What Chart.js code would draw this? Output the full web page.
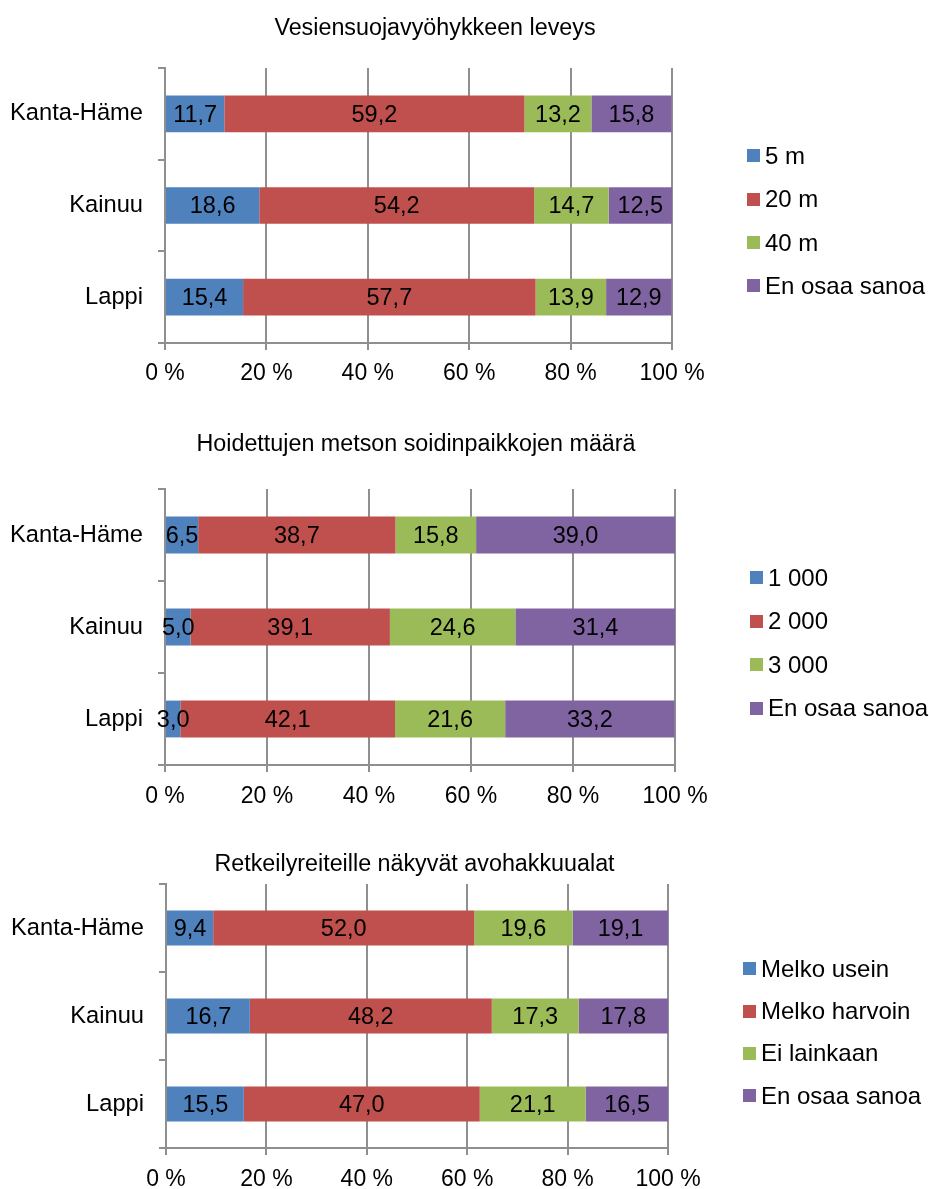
<!DOCTYPE html>
<html lang="fi">
<head>
<meta charset="utf-8">
<title>Kyselyn tulokset</title>
<script src="https://cdn.jsdelivr.net/npm/chart.js@4.4.1/dist/chart.umd.min.js"></script>
<style>
  body {
    margin: 0;
    width: 929px;
    height: 1189px;
    position: relative;
    overflow: hidden;
    background: #fff;
    font-family: "Liberation Sans", Arial, Helvetica, sans-serif;
    color: #000;
  }
  canvas { position: absolute; left: 0; }
  .otsikko {
    position: absolute;
    font-size: 23.3px;
    line-height: 28px;
    white-space: nowrap;
    transform: translate(-50%, -50%);
  }
  .selite-laatikko { position: absolute; width: 13px; height: 13px; }
  .selite-teksti {
    position: absolute;
    font-size: 24px;
    line-height: 28px;
    white-space: nowrap;
  }
</style>
</head>
<body>

<canvas id="kaavio1" width="929" height="400"></canvas>
<canvas id="kaavio2" width="929" height="415"></canvas>
<canvas id="kaavio3" width="929" height="359"></canvas>

<script>
// --- Yhteiset tiedot ---
const alueet = ['Kanta-Häme', 'Kainuu', 'Lappi'];
const prosenttiTikit = ['0 %', '20 %', '40 %', '60 %', '80 %', '100 %'];
const varit = ['#4F81BD', '#C0504D', '#9BBB59', '#8064A2'];

// --- Kaavio 1: vesiensuojavyöhyke ---
const leveysOtsikko = 'Vesiensuojavyöhykkeen leveys';
const leveysSarjat = ['5 m', '20 m', '40 m', 'En osaa sanoa'];
const leveys5m = [11.7, 18.6, 15.4];
const leveys20m = [59.2, 54.2, 57.7];
const leveys40m = [13.2, 14.7, 13.9];
const leveysEos = [15.8, 12.5, 12.9];

// --- Kaavio 2: metson soidinpaikat ---
const soidinOtsikko = 'Hoidettujen metson soidinpaikkojen määrä';
const soidinSarjat = ['1 000', '2 000', '3 000', 'En osaa sanoa'];
const soidin1000 = [6.5, 5.0, 3.0];
const soidin2000 = [38.7, 39.1, 42.1];
const soidin3000 = [15.8, 24.6, 21.6];
const soidinEos = [39.0, 31.4, 33.2];

// --- Kaavio 3: avohakkuualat ---
const hakkuuOtsikko = 'Retkeilyreiteille näkyvät avohakkuualat';
const hakkuuSarjat = ['Melko usein', 'Melko harvoin', 'Ei lainkaan', 'En osaa sanoa'];
const hakkuuUsein = [9.4, 16.7, 15.5];
const hakkuuHarvoin = [52.0, 48.2, 47.0];
const hakkuuEi = [19.6, 17.3, 21.1];
const hakkuuEos = [19.1, 17.8, 16.5];

// --- Ulkoasu (sijainnit sivulla) ---
const viiva = '#8f8f8f';
const fontti = '"Liberation Sans", Arial, Helvetica, sans-serif';

Chart.defaults.font.family = fontti;
Chart.defaults.font.size = 23;
Chart.defaults.color = '#000';

// Kirjoittaa arvon jokaisen palkin keskelle (pilkku desimaalierottimena)
const arvotPalkeissa = {
    id: 'arvotPalkeissa',
    afterDatasetsDraw(chart) {
        const ctx = chart.ctx;
        ctx.save();
        ctx.font = '23.5px ' + fontti;
        ctx.fillStyle = '#000';
        ctx.textAlign = 'center';
        ctx.textBaseline = 'middle';
        chart.data.datasets.forEach((ds, i) => {
            chart.getDatasetMeta(i).data.forEach((palkki, j) => {
                const { x, y, base } = palkki.getProps(['x', 'y', 'base'], true);
                ctx.fillText(ds.data[j].toFixed(1).replace('.', ','), (x + base) / 2, y + 1.5);
            });
        });
        ctx.restore();
    }
};

/**
 * Piirtää yhden 100 % pinotun vaakapalkkikaavion sekä sen otsikon ja selitteen.
 */
function luoKaavio(id, otsikko, sarjat, arvot, a) {
    const canvas = document.getElementById(id);
    canvas.style.top = a.canvasYla + 'px';
    const korkeus = canvas.height;

    const kaavio = new Chart(canvas, {
        type: 'bar',
        data: {
            labels: alueet,
            datasets: sarjat.map((nimi, i) => ({
                label: nimi,
                data: arvot[i],
                backgroundColor: varit[i],
                borderWidth: 0,
                barPercentage: 0.4,
                categoryPercentage: 1
            }))
        },
        options: {
            indexAxis: 'y',
            responsive: false,
            animation: false,
            events: [],
            layout: {
                padding: { left: 0, top: a.yla - a.canvasYla, right: canvas.width - a.oikea, bottom: 0 }
            },
            plugins: {
                legend: { display: false },
                title: { display: false },
                tooltip: { enabled: false }
            },
            scales: {
                x: {
                    stacked: true,
                    min: 0,
                    max: 100,
                    ticks: {
                        stepSize: 20,
                        padding: a.tikkiVali,
                        maxRotation: 0,
                        autoSkip: false,
                        callback: (v, i) => prosenttiTikit[i]
                    },
                    grid: { color: viiva, lineWidth: 2, tickLength: 7 },
                    border: { color: viiva, width: 2 },
                    afterFit: s => { s.height = a.canvasYla + korkeus - a.ala; }
                },
                y: {
                    stacked: true,
                    ticks: { padding: 15, font: { size: 23.7 } },
                    grid: { color: viiva, lineWidth: 2, tickLength: 7, drawOnChartArea: false, offset: true },
                    border: { color: viiva, width: 2 },
                    afterFit: s => { s.width = a.vasen; }
                }
            }
        },
        plugins: [arvotPalkeissa]
    });

    // Otsikko
    const o = document.createElement('div');
    o.className = 'otsikko';
    o.textContent = otsikko;
    o.style.left = a.otsikkoX + 'px';
    o.style.top = a.otsikkoY + 'px';
    document.body.appendChild(o);

    // Selite datasetien nimistä ja väreistä
    kaavio.data.datasets.forEach((ds, i) => {
        const keski = a.seliteY + i * a.seliteVali;
        const laatikko = document.createElement('div');
        laatikko.className = 'selite-laatikko';
        laatikko.style.background = ds.backgroundColor;
        laatikko.style.left = a.laatikkoX + 'px';
        laatikko.style.top = (keski - 6.5) + 'px';
        document.body.appendChild(laatikko);

        const teksti = document.createElement('div');
        teksti.className = 'selite-teksti';
        teksti.textContent = ds.label;
        teksti.style.left = a.tekstiX + 'px';
        teksti.style.top = (keski - 14) + 'px';
        document.body.appendChild(teksti);
    });

    return kaavio;
}

luoKaavio('kaavio1', leveysOtsikko, leveysSarjat,
    [leveys5m, leveys20m, leveys40m, leveysEos],
    { canvasYla: 0, yla: 68, ala: 343, vasen: 165, oikea: 672, tikkiVali: 10,
      otsikkoX: 435, otsikkoY: 26.5,
      laatikkoX: 747, tekstiX: 765, seliteY: 155.7, seliteVali: 43.4 });

luoKaavio('kaavio2', soidinOtsikko, soidinSarjat,
    [soidin1000, soidin2000, soidin3000, soidinEos],
    { canvasYla: 410, yla: 489, ala: 765, vasen: 165, oikea: 675, tikkiVali: 11,
      otsikkoX: 416, otsikkoY: 443.3,
      laatikkoX: 750, tekstiX: 768, seliteY: 577.8, seliteVali: 43.5 });

luoKaavio('kaavio3', hakkuuOtsikko, hakkuuSarjat,
    [hakkuuUsein, hakkuuHarvoin, hakkuuEi, hakkuuEos],
    { canvasYla: 830, yla: 884, ala: 1148, vasen: 166, oikea: 668, tikkiVali: 11,
      otsikkoX: 414.5, otsikkoY: 863.3,
      laatikkoX: 743, tekstiX: 761, seliteY: 968.7, seliteVali: 42.3 });
</script>
</body>
</html>
